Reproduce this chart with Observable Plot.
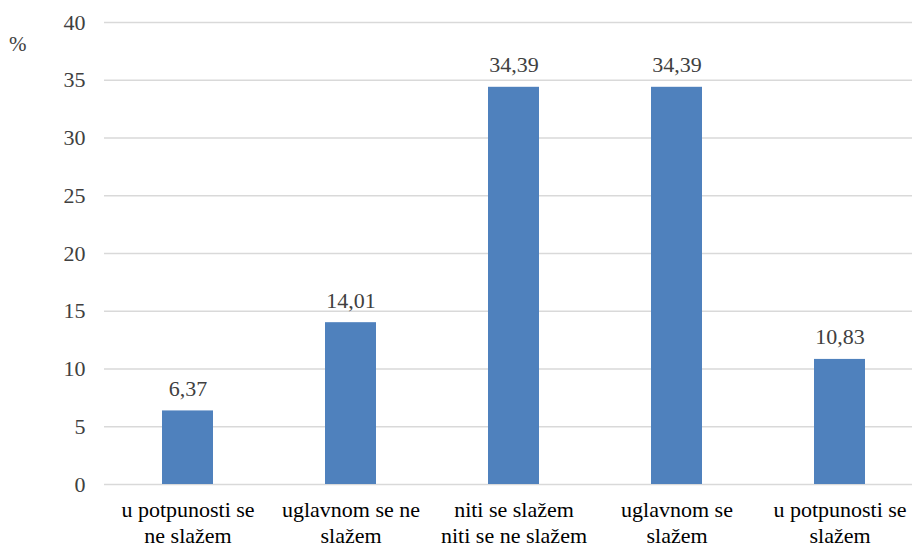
<!DOCTYPE html>
<html>
<head>
<meta charset="utf-8">
<script src="https://cdn.jsdelivr.net/npm/d3@7"></script>
<script src="https://cdn.jsdelivr.net/npm/@observablehq/plot@0.6"></script>
<style>
  html, body { margin: 0; padding: 0; background: #fff; overflow: hidden; }
  #chart { position: relative; width: 912px; height: 548px; }
  #unit { position: absolute; left: 9px; top: 32px; font-family: "Liberation Serif", Tinos, "DejaVu Serif", serif; font-size: 21px; color: #404040; }
</style>
</head>
<body>
<div id="chart"><div id="unit">%</div></div>
<script>
const categories = [
  "u potpunosti se\nne slažem",
  "uglavnom se ne\nslažem",
  "niti se slažem\nniti se ne slažem",
  "uglavnom se\nslažem",
  "u potpunosti se\nslažem"
];
const values = [6.37, 14.01, 34.39, 34.39, 10.83];
const yTicks = [0, 5, 10, 15, 20, 25, 30, 35, 40];

const data = categories.map((c, i) => ({category: c, value: values[i]}));
const fmt = v => v.toFixed(2).replace(".", ",");
const serif = "'Liberation Serif', Tinos, 'DejaVu Serif', serif";

const plot = Plot.plot({
  width: 912,
  height: 548,
  marginTop: 22,
  marginBottom: 64,
  marginLeft: 104,
  marginRight: 0,
  style: {fontFamily: serif, fontSize: "22px", color: "#404040", background: "#fff"},
  x: {domain: categories, range: [104, 922], paddingInner: 0.69, paddingOuter: 0.345, label: null},
  y: {domain: [0, 40], ticks: yTicks, label: null},
  marks: [
    Plot.ruleY(yTicks, {stroke: "#d9d9d9", strokeWidth: 1.5}),
    Plot.barY(data, {x: "category", y: "value", fill: "#4F81BD"}),
    Plot.text(data, {x: "category", y: "value", text: d => fmt(d.value), lineAnchor: "bottom", dy: -15, fill: "#404040", fontSize: 22, fontFamily: serif}),
    Plot.axisY({ticks: yTicks, tickSize: 0, tickPadding: 19, label: null, fill: "#404040", fontSize: 22, fontFamily: serif}),
    Plot.axisX({tickSize: 0, tickPadding: 14, label: null, fill: "#000", fontSize: 22, lineHeight: 1.17, fontFamily: serif})
  ]
});
document.getElementById("chart").appendChild(plot);
</script>
</body>
</html>
